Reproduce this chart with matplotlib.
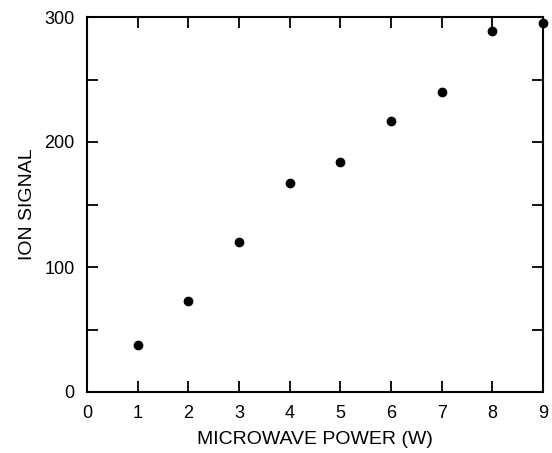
import matplotlib
matplotlib.use("Agg")
import matplotlib.pyplot as plt

power = [1, 2, 3, 4, 5, 6, 7, 8, 9]
ion_signal = [38, 73, 120, 167, 184, 217, 240, 289, 295]
xticks = [0, 1, 2, 3, 4, 5, 6, 7, 8, 9]
yticks_major = [0, 100, 200, 300]
yticks_minor = [50, 150, 250]

plt.rcParams['font.family'] = ['Liberation Sans', 'DejaVu Sans']

fig = plt.figure(figsize=(5.52, 4.53), dpi=100)
ax = fig.add_axes([87/552, 61/453, 456/552, 375/453])
ax.scatter(power, ion_signal, s=36, color='black', zorder=3, clip_on=False)
ax.set_xlim(0, 9)
ax.set_ylim(0, 300)
ax.set_xticks(xticks)
ax.set_yticks(yticks_major)
ax.set_yticks(yticks_minor, minor=True)
for s in ax.spines.values():
    s.set_linewidth(1.5)
ax.tick_params(which='both', direction='in', length=8, width=1.3,
               top=True, right=True, labelsize=13, pad=9)
ax.set_xlabel('MICROWAVE POWER (W)', fontsize=14, labelpad=7)
ax.set_ylabel('ION SIGNAL', fontsize=14, labelpad=6)
fig.savefig('out.png', dpi=100)
